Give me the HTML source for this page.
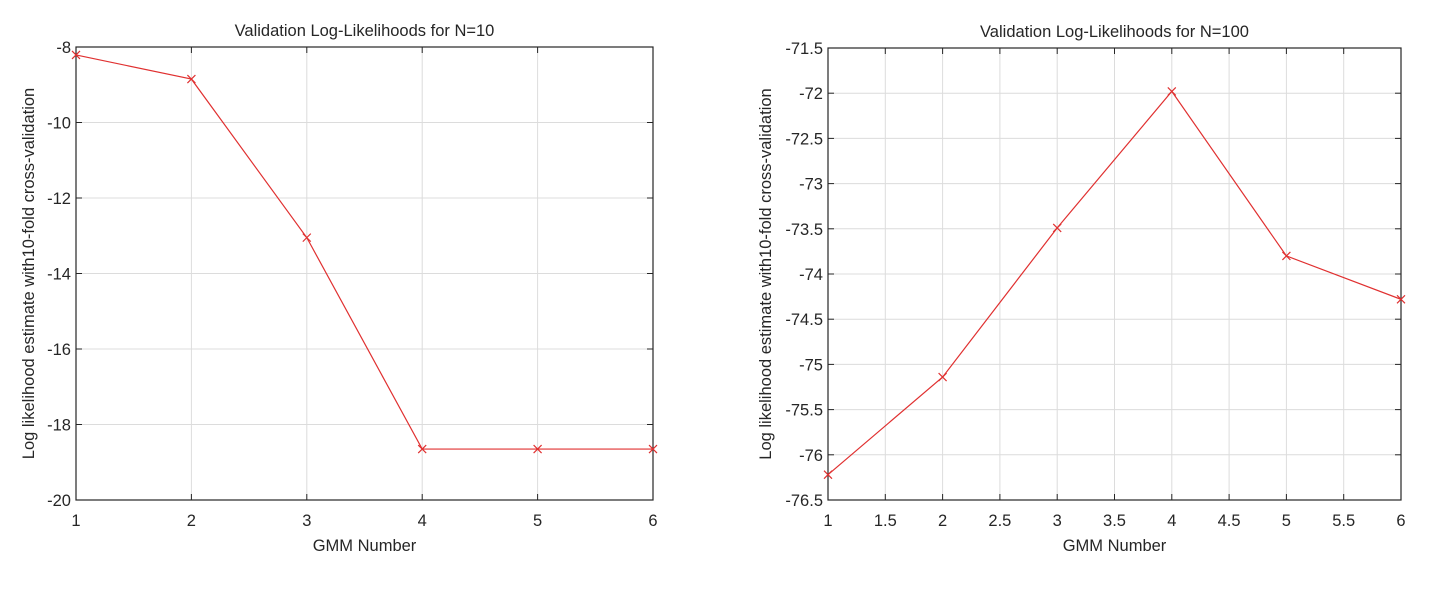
<!DOCTYPE html>
<html><head><meta charset="utf-8"><style>
body{margin:0;background:#fff;}
svg text{font-family:"Liberation Sans",Arial,sans-serif;fill:#262626;}
</style></head><body>
<svg id="c" width="1437" height="587" xmlns="http://www.w3.org/2000/svg"></svg>
<script>
const xCats=[1,2,3,4,5,6];
const leftValues=[-8.21,-8.85,-13.05,-18.65,-18.65,-18.65];
const rightValues=[-76.22,-75.14,-73.49,-71.98,-73.8,-74.28];
const leftYTicks=[-20,-18,-16,-14,-12,-10,-8];
const rightYTicks=[-76.5,-76,-75.5,-75,-74.5,-74,-73.5,-73,-72.5,-72,-71.5];
const leftXTicks=[1,2,3,4,5,6];
const rightXTicks=[1,1.5,2,2.5,3,3.5,4,4.5,5,5.5,6];
const titles=["Validation Log-Likelihoods for N=10","Validation Log-Likelihoods for N=100"];
const NS="http://www.w3.org/2000/svg";
const svg=document.getElementById('c');
function mk(t,a,p){const e=document.createElementNS(NS,t);for(const k in a)e.setAttribute(k,a[k]);(p||svg).appendChild(e);return e;}
function panel(id,L,R,T,B,xT,yT,vals,title,ylOff){
  const g=mk('g',{});
  
  
  const x0=xT[0],x1=xT[xT.length-1],y0=yT[0],y1=yT[yT.length-1];
  const sx=v=>L+(v-x0)/(x1-x0)*(R-L), sy=v=>B-(v-y0)/(y1-y0)*(B-T);
  xT.forEach(v=>{const X=sx(v);
    const l=mk('line',{x1:X,x2:X,y1:T,y2:B,stroke:'#dcdcdc','stroke-width':1},g);
    
    mk('line',{x1:X,x2:X,y1:B,y2:B-6,stroke:'#262626'},g);mk('line',{x1:X,x2:X,y1:T,y2:T+6,stroke:'#262626'},g);
    const t=mk('text',{x:X,y:B+26,'text-anchor':'middle','font-size':16.5},g);t.textContent=v;
    });
  yT.forEach(v=>{const Y=sy(v);
    const l=mk('line',{x1:L,x2:R,y1:Y,y2:Y,stroke:'#dcdcdc','stroke-width':1},g);
    
    mk('line',{x1:L,x2:L+6,y1:Y,y2:Y,stroke:'#262626'},g);mk('line',{x1:R,x2:R-6,y1:Y,y2:Y,stroke:'#262626'},g);
    const t=mk('text',{x:L-5,y:Y+6,'text-anchor':'end','font-size':16.5},g);t.textContent=v;
    });
  const bx=mk('rect',{x:L,y:T,width:R-L,height:B-T,fill:'none',stroke:'#262626','stroke-width':1.2},g);
  
  const pts=xCats.map((c,i)=>sx(c)+','+sy(vals[i])).join(' ');
  const pl=mk('polyline',{points:pts,fill:'none',stroke:'#e03030','stroke-width':1.2},g);
  
  xCats.forEach((c,i)=>{const X=sx(c),Y=sy(vals[i]);
    const m=mk('path',{d:`M${X-4},${Y-4}L${X+4},${Y+4}M${X-4},${Y+4}L${X+4},${Y-4}`,stroke:'#e03030','stroke-width':1.2},g);
    });
  const tt=mk('text',{x:(L+R)/2,y:T-11,'text-anchor':'middle','font-size':16.5},g);tt.textContent=title;
  
  const xl=mk('text',{x:(L+R)/2,y:B+51,'text-anchor':'middle','font-size':16.5},g);xl.textContent='GMM Number';
  
  const yc=(T+B)/2, yx=L-ylOff;
  const yl=mk('text',{x:yx,y:yc,'text-anchor':'middle','font-size':16.5,transform:`rotate(-90 ${yx} ${yc})`},g);
  yl.textContent='Log likelihood estimate with10-fold cross-validation';
  
}
panel('left-panel',76,653,47,500,leftXTicks,leftYTicks,leftValues,titles[0],42);
panel('right-panel',828,1401,48,500,rightXTicks,rightYTicks,rightValues,titles[1],57);
</script>
</body></html>
